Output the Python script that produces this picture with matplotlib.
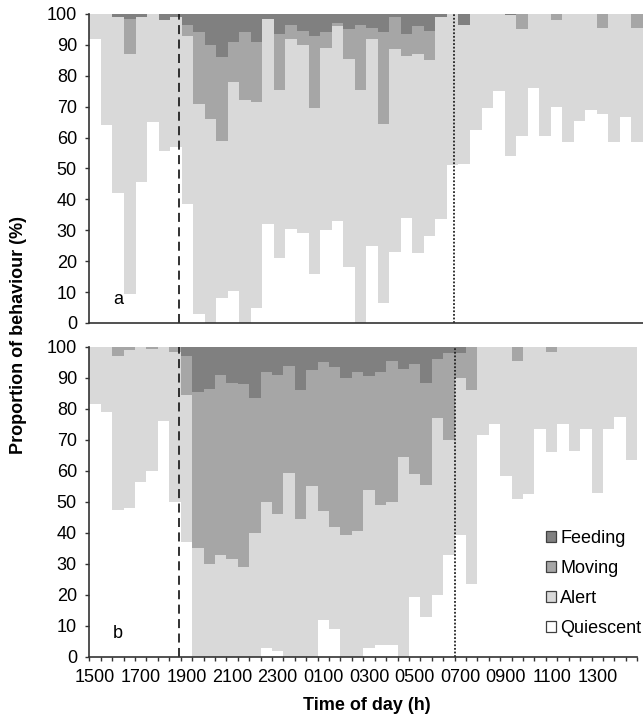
import matplotlib
matplotlib.use('Agg')
import matplotlib.pyplot as plt
from matplotlib.patches import Patch
import numpy as np

plt.rcParams['font.family'] = ['Liberation Sans', 'DejaVu Sans']

# half-hour bins from 1500 to 1430 next day, labels every 2 h
tick_labels = ['1500', '1700', '1900', '2100', '2300', '0100',
               '0300', '0500', '0700', '0900', '1100', '1300']
n_bins = 48

behaviours = ['Quiescent', 'Alert', 'Moving', 'Feeding']
colours = {'Quiescent': '#ffffff', 'Alert': '#d9d9d9',
           'Moving': '#a6a6a6', 'Feeding': '#808080'}

# panel a
quiescent_a = [92, 64, 42, 9.5, 45.5, 65, 55.5, 57, 38.5, 3, 0, 8, 10.5, 0, 5, 32,
               21, 30.5, 29, 16, 30, 33, 18, 0, 25, 6.5, 23, 34, 22.5, 28, 33.5, 51,
               51.5, 62.5, 69.5, 75, 54, 60.5, 76, 60.5, 70, 58.5, 65.5, 69, 67.5, 58.5, 66.5, 58.5]
alert_a = [8, 36, 57, 77.5, 53.5, 35, 42.5, 42, 54.5, 68, 66, 51, 67.5, 72, 66.5, 66.5,
           54.5, 61.5, 61, 53.5, 59, 63, 67.5, 75.5, 67, 58, 65.5, 52.5, 64.5, 57, 65.5, 49,
           45, 37.5, 30.5, 25, 45.5, 34.5, 24, 39.5, 28, 41.5, 34.5, 31, 28, 41.5, 33.5, 37]
moving_a = [0, 0, 0, 11.5, 0, 0, 0, 0, 3.5, 23, 24, 27, 13, 22, 19.5, 0,
            18, 4.5, 4.5, 23.5, 5, 1, 9.5, 21, 3.5, 29.5, 10.5, 7, 9, 9.5, 0, 0,
            0, 0, 0, 0, 0, 5, 0, 0, 2, 0, 0, 0, 4.5, 0, 0, 4.5]
feeding_a = [0, 0, 1, 1.5, 1, 0, 2, 1, 3.5, 6, 10, 14, 9, 6, 9, 1.5,
             6.5, 3.5, 5.5, 7, 6, 3, 5, 3.5, 4.5, 6, 1, 6.5, 4, 5.5, 1, 0,
             3.5, 0, 0, 0, 0.5, 0, 0, 0, 0, 0, 0, 0, 0, 0, 0, 0]

# panel b
quiescent_b = [81.5, 79, 47.5, 48, 56.5, 60, 76, 50, 37, 0, 0, 0, 0, 0, 0, 3,
               2, 0, 0, 0, 12, 9, 0, 0, 3, 4, 4, 0, 19.5, 13, 20, 33,
               39.5, 23.5, 71.5, 75, 58.5, 51, 52.5, 73.5, 66, 75, 66.5, 73.5, 53, 73.5, 77.5, 63.5]
alert_b = [18.5, 21, 49.5, 51, 43.5, 39.5, 24, 48.5, 47.5, 35, 30, 33, 31.5, 29, 40, 47,
           44, 59.5, 44.5, 55, 35, 33, 39.5, 40.5, 51, 45, 46, 64.5, 39.5, 42.5, 57, 37,
           50.5, 62.5, 28.5, 25, 41.5, 44.5, 47.5, 26.5, 32.5, 25, 33.5, 26.5, 47, 26.5, 22.5, 36.5]
moving_b = [0, 0, 3, 1, 0, 0.5, 0, 1.5, 12.5, 50.5, 56.5, 58, 57, 59, 43.5, 42,
            45, 34.5, 41.5, 37.5, 48, 51.5, 50.5, 51.5, 36.5, 43, 45.5, 28.5, 35.5, 33, 19, 28,
            8, 14, 0, 0, 0, 4.5, 0, 0, 1.5, 0, 0, 0, 0, 0, 0, 0]
feeding_b = [0, 0, 0, 0, 0, 0, 0, 0, 3, 14.5, 13.5, 9, 11.5, 12, 16.5, 8,
             9, 6, 14, 7.5, 5, 6.5, 10, 8, 9.5, 8, 4.5, 7, 5.5, 11.5, 4, 2,
             2, 0, 0, 0, 0, 0, 0, 0, 0, 0, 0, 0, 0, 0, 0, 0]

panels = [
    ('a', {'Quiescent': quiescent_a, 'Alert': alert_a, 'Moving': moving_a, 'Feeding': feeding_a},
     7.25, 31.15),
    ('b', {'Quiescent': quiescent_b, 'Alert': alert_b, 'Moving': moving_b, 'Feeding': feeding_b},
     7.35, 31.5),
]

fs = 13
fig = plt.figure(figsize=(6.43, 7.23), dpi=100)
ax_a = fig.add_axes([0.139, 0.5533, 0.861, 0.4274])
ax_b = fig.add_axes([0.139, 0.0913, 0.852, 0.4288])

x = np.arange(n_bins)
axis_col = '#333333'

for ax, (letter, data, dusk, dawn) in zip([ax_a, ax_b], panels):
    bottom = np.zeros(n_bins)
    for b in behaviours:
        vals = np.array(data[b], dtype=float)
        ax.bar(x, vals, width=1.0, bottom=bottom, color=colours[b], linewidth=0)
        bottom += vals

    # sunset / sunrise markers
    ax.vlines(dusk, 0, 100, colors='#222222', linestyles=(0, (5, 3)), linewidth=1.3)
    ax.vlines(dawn, 0, 100, colors='#222222', linestyles=(0, (1, 1)), linewidth=1.3)

    ax.set_xlim(-0.5, n_bins - 0.5)
    ax.set_ylim(0, 100)
    ax.set_yticks(np.arange(0, 101, 10))
    for s in ['top', 'right']:
        ax.spines[s].set_visible(False)
    for s in ['left', 'bottom']:
        ax.spines[s].set_color(axis_col)
        ax.spines[s].set_linewidth(1.2)
    ax.tick_params(axis='y', direction='out', length=3, width=1, color=axis_col,
                   labelsize=fs, pad=6)
    ax.text(2.0, 7.5, letter, ha='center', va='center', fontsize=fs)

ax_a.tick_params(axis='x', which='both', length=0, labelbottom=False)

ax_b.set_xticks(np.arange(0, n_bins, 4))
ax_b.set_xticklabels(tick_labels)
ax_b.set_xticks(np.arange(-0.5, n_bins, 1), minor=True)
ax_b.tick_params(axis='x', which='major', length=0, labelsize=fs, pad=9)
ax_b.tick_params(axis='x', which='minor', direction='out', length=3, width=1, color=axis_col)

handles = [Patch(facecolor=colours[b], edgecolor='#404040', linewidth=0.9, label=b)
           for b in ['Feeding', 'Moving', 'Alert', 'Quiescent']]
fig.legend(handles=handles, loc='upper left', bbox_to_anchor=(546 / 643, 1 - 530 / 723),
           frameon=False, fontsize=fs, handlelength=0.55, handleheight=0.55,
           handletextpad=0.25, labelspacing=0.72, borderpad=0, borderaxespad=0)

fig.text(0.028, 1 - 335 / 723, 'Proportion of behaviour (%)', rotation=90,
         ha='center', va='center', fontsize=fs, fontweight='bold')
fig.text(367 / 643, 1 - 705 / 723, 'Time of day (h)', ha='center', va='center',
         fontsize=fs, fontweight='bold')

fig.savefig('out.png', dpi=100)
